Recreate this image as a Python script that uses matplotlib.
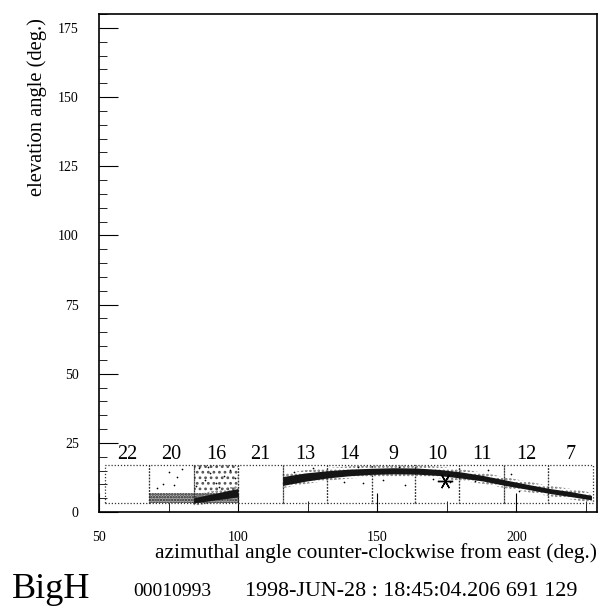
import numpy as np
import matplotlib.pyplot as plt
from matplotlib.patches import Rectangle
from matplotlib.ticker import MultipleLocator

plt.rcParams['font.family'] = ['Liberation Serif', 'DejaVu Serif']
plt.rcParams['hatch.linewidth'] = 1.2

# cameras (dotted boxes): label, left / right edge in azimuth (deg.)
cam_names = ['22', '20', '16', '21', '13', '14', '9', '10', '11', '12', '7']
cam_left = [52, 68, 84, 100, 116, 132, 148, 163.5, 179.5, 195.5, 211.5]
cam_right = [68, 84, 100, 116, 132, 148, 163.5, 179.5, 195.5, 211.5, 227.5]
cam_low, cam_high = 3.4, 17.0

# track seen in camera 16
trk1_az = [84, 88, 92, 96, 100]
trk1_el = [4.2, 4.9, 5.6, 6.3, 7.0]
trk1_hw = [0.9, 1.1, 1.2, 1.4, 1.5]

# main track, cameras 13 -> 7
trk2_az = [116, 124, 132, 140, 148, 156, 164, 172, 180, 188, 196, 204, 212, 220, 227]
trk2_el = [11.2, 12.6, 13.6, 14.3, 14.7, 14.9, 14.8, 14.3, 13.4, 12.2, 10.6, 9.1, 7.6, 6.4, 5.2]
trk2_hw = [1.6, 1.5, 1.3, 1.2, 1.1, 1.1, 1.1, 1.1, 1.1, 1.0, 1.0, 0.9, 0.9, 0.9, 0.8]

# scattered hits
noise_az = [75, 78, 73, 80, 71, 77, 86, 90, 95, 88, 92, 97, 85, 93, 99, 89,
            120, 127, 138, 145, 152, 160, 170, 176, 185, 190, 198, 201, 158, 143]
noise_el = [14.5, 12.8, 10.2, 15.6, 8.7, 9.6, 15.8, 14.2, 13.1, 11.7, 10.5, 15.2,
            9.4, 8.9, 12.4, 16.3, 14.6, 15.8, 11.0, 10.4, 11.5, 9.8, 12.0, 10.9,
            11.3, 15.1, 13.6, 7.6, 16.2, 16.4]

# shower direction
star_az, star_el = 174.5, 11.3

fig = plt.figure(figsize=(6.01, 6.07), dpi=100)
ax = fig.add_axes([99 / 601, 95 / 607, 498 / 601, 498 / 607])

for name, l, r in zip(cam_names, cam_left, cam_right):
    ax.add_patch(Rectangle((l, cam_low), r - l, cam_high - cam_low, fill=False,
                           ls=(0, (1, 1.5)), lw=0.9, ec='#333333', zorder=3))
    ax.text((l + r) / 2, cam_high + 0.2, name, ha='center', va='bottom', fontsize=14.5)

# stippled backgrounds in cameras 20 and 16
ax.add_patch(Rectangle((68, cam_low), 16, 3.4, facecolor='#b0b0b0', hatch='......',
                       ec='#222222', lw=0, zorder=2))
ax.add_patch(Rectangle((84, cam_low), 16, 3.6, facecolor='#b0b0b0', hatch='......',
                       ec='#222222', lw=0, zorder=2))
ax.add_patch(Rectangle((84, 7.0), 16, cam_high - 7.0, fill=False, hatch='...',
                       ec='#555555', lw=0, zorder=2))

for az, el, hw in [(trk1_az, trk1_el, trk1_hw), (trk2_az, trk2_el, trk2_hw)]:
    az = np.array(az)
    el = np.array(el)
    hw = np.array(hw)
    ax.fill_between(az, el - hw - 1.0, el + hw + 1.0, facecolor='none',
                    hatch='....', edgecolor='#777777', lw=0, zorder=2)
    ax.fill_between(az, el - hw, el + hw, color='#151515', lw=0, zorder=4)

ax.scatter(noise_az, noise_el, s=1.5, c='black', lw=0, zorder=4)
ax.plot([star_az], [star_el], marker=(6, 2, 90), ms=11, mew=1.0, color='black', zorder=5)

ax.set_xlim(50, 229)
ax.set_ylim(0, 180)
ax.xaxis.set_major_locator(MultipleLocator(50))
ax.xaxis.set_minor_locator(MultipleLocator(25))
ax.yaxis.set_major_locator(MultipleLocator(25))
ax.yaxis.set_minor_locator(MultipleLocator(5))
ax.tick_params(which='both', direction='in', top=False, right=False, labelsize=10)
ax.tick_params(axis='x', which='major', length=14, pad=13.5)
ax.tick_params(axis='x', which='minor', length=8)
ax.tick_params(axis='y', which='major', length=14, pad=14.5)
ax.tick_params(axis='y', which='minor', length=6)
for s in ax.spines.values():
    s.set_linewidth(1.2)

fig.text(37 / 601, 1 - 18 / 607, 'elevation angle (deg.)', rotation=90,
         ha='center', va='top', fontsize=14.8)
fig.text(597 / 601, 1 - 553 / 607, 'azimuthal angle counter-clockwise from east (deg.)',
         ha='right', va='center', fontsize=15.5)

fig.text(12 / 601, 1 - 590 / 607, 'BigH', ha='left', va='center', fontsize=26)
fig.text(133 / 601, 1 - 591 / 607, '00010993', ha='left', va='center', fontsize=14)
fig.text(245 / 601, 1 - 591 / 607, '1998-JUN-28 : 18:45:04.206 691 129',
         ha='left', va='center', fontsize=15.8)

fig.savefig('out.png', dpi=100)
